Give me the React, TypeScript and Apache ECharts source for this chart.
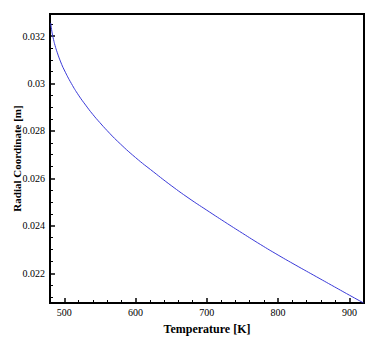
import React, { useEffect, useRef } from "react";
import * as echarts from "echarts";

const temperature = [481, 483, 485, 487, 490, 495, 500, 510, 520, 530, 540, 550, 560, 575, 600, 625, 650, 675, 700, 725, 750, 775, 800, 825, 850, 875, 900, 920];
const radius = [0.03255, 0.03213, 0.03185, 0.03161, 0.03132, 0.03091, 0.03057, 0.03, 0.02951, 0.02909, 0.0287, 0.02835, 0.02802, 0.02756, 0.02688, 0.02628, 0.0257, 0.02516, 0.02466, 0.02417, 0.02369, 0.02322, 0.02277, 0.02234, 0.02192, 0.0215, 0.02108, 0.02075];

const xTicks = [500, 600, 700, 800, 900];
const xMinorTicks = [520, 540, 560, 580, 620, 640, 660, 680, 720, 740, 760, 780, 820, 840, 860, 880];
const yTicks = [0.022, 0.024, 0.026, 0.028, 0.03, 0.032];
const yMinorTicks = [0.021, 0.0215, 0.0225, 0.023, 0.0235, 0.0245, 0.025, 0.0255, 0.0265, 0.027, 0.0275, 0.0285, 0.029, 0.0295, 0.0305, 0.031, 0.0315, 0.0325];

const X_MIN = 480;
const X_MAX = 920.5;
const Y_MIN = 0.02075;
const Y_MAX = 0.03293;

export default function App() {
  const ref = useRef<HTMLDivElement>(null);
  useEffect(() => {
    if (!ref.current) return;
    const chart = echarts.init(ref.current, undefined, { renderer: "svg" });
    const font = "'Liberation Serif', 'Times New Roman', serif";
    const grid = { left: 50, right: 17, top: 14, bottom: 36, outerBoundsMode: "none", containLabel: false };
    chart.setOption({
      animation: false,
      backgroundColor: "#fff",
      grid: [
        { ...grid, show: true, borderColor: "#000", borderWidth: 2, backgroundColor: "transparent" },
        { ...grid, show: false },
      ],
      xAxis: [
        {
          type: "value",
          gridIndex: 0,
          min: X_MIN,
          max: X_MAX,
          name: "Temperature [K]",
          nameLocation: "middle",
          nameGap: 20,
          nameMoveOverlap: false,
          nameTextStyle: { fontFamily: font, fontSize: 12, fontWeight: "bold", color: "#000" },
          axisLine: { show: true, lineStyle: { color: "#000", width: 2 } },
          axisTick: { show: true, inside: true, length: 5, customValues: xTicks, lineStyle: { color: "#000", width: 1.5 } },
          axisLabel: { show: true, customValues: xTicks, margin: 4, fontFamily: font, fontSize: 10, color: "#000" },
          splitLine: { show: false },
          minorTick: { show: false },
        },
        {
          type: "value",
          gridIndex: 1,
          min: X_MIN,
          max: X_MAX,
          axisLine: { show: false },
          axisTick: { show: true, inside: true, length: 3, customValues: xMinorTicks, lineStyle: { color: "#000", width: 1 } },
          axisLabel: { show: false },
          splitLine: { show: false },
        },
      ],
      yAxis: [
        {
          type: "value",
          gridIndex: 0,
          min: Y_MIN,
          max: Y_MAX,
          name: "Radial Coordinate [m]",
          nameLocation: "middle",
          nameGap: 28,
          nameMoveOverlap: false,
          nameTextStyle: { fontFamily: font, fontSize: 11, fontWeight: "bold", color: "#000" },
          axisLine: { show: true, lineStyle: { color: "#000", width: 2 } },
          axisTick: { show: true, inside: true, length: 5, customValues: yTicks, lineStyle: { color: "#000", width: 1.5 } },
          axisLabel: { show: true, customValues: yTicks, margin: 5, fontFamily: font, fontSize: 10, color: "#000" },
          splitLine: { show: false },
          minorTick: { show: false },
        },
        {
          type: "value",
          gridIndex: 1,
          min: Y_MIN,
          max: Y_MAX,
          axisLine: { show: false },
          axisTick: { show: true, inside: true, length: 3, customValues: yMinorTicks, lineStyle: { color: "#000", width: 1 } },
          axisLabel: { show: false },
          splitLine: { show: false },
        },
      ],
      series: [
        {
          type: "line",
          xAxisIndex: 0,
          yAxisIndex: 0,
          data: temperature.map((t, i) => [t, radius[i]]),
          showSymbol: false,
          smooth: true,
          lineStyle: { color: "#3a3ad8", width: 1 },
          itemStyle: { color: "#3a3ad8" },
        },
      ],
    });
    return () => chart.dispose();
  }, []);
  return <div ref={ref} style={{ width: 381, height: 339, position: "absolute", left: 0, top: 0 }} />;
}
